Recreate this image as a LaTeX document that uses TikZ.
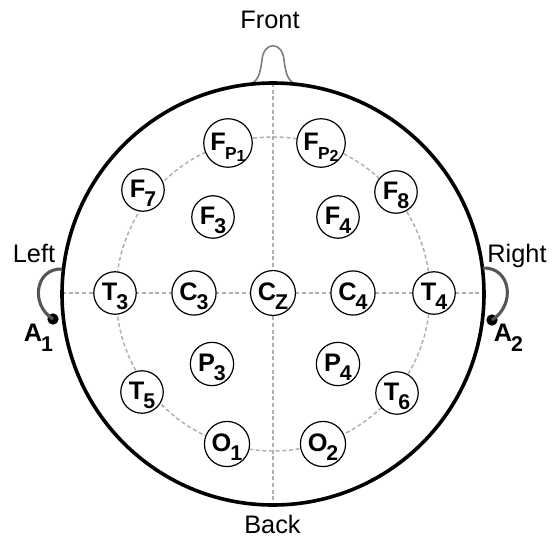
\documentclass[tikz,border=0pt]{standalone}
\usepackage{fontspec}
\setmainfont{Liberation Sans}
\usetikzlibrary{positioning}
\definecolor{guidegray}{RGB}{175,175,175}
\definecolor{nosegray}{RGB}{125,125,125}
\definecolor{eargray}{RGB}{85,85,85}
\newcommand{\esub}[1]{\kern-0.8pt\raisebox{-7pt}{\fontsize{16}{16}\selectfont #1}}
\newcommand{\fpsub}[1]{\kern-0.5pt\raisebox{-6.5pt}{\fontsize{13}{13}\selectfont P\raisebox{-1.5pt}{\fontsize{12}{12}\selectfont #1}}}

\begin{document}
\begin{tikzpicture}[
  x=0.75pt, y=-0.75pt,
  elec/.style      = {circle, draw=black, fill=white, line width=0.9pt,
                      minimum size=27.75pt, inner sep=0pt,
                      text height=18pt, text depth=7pt,
                      font=\fontsize{19}{19}\selectfont\bfseries},
  side/.style      = {anchor=base, font=\fontsize{19}{19}\selectfont},
  refel/.style     = {anchor=base, font=\fontsize{19}{19}\selectfont\bfseries},
  guideline/.style = {draw=guidegray, line width=1.1pt, dash pattern=on 3pt off 2pt},
  head/.style      = {draw=black, line width=2.7pt},
  nose/.style      = {draw=nosegray, line width=1.2pt},
  ear/.style       = {draw=eargray, line width=2.3pt},
  clipdot/.style   = {circle, fill=black, inner sep=0pt, minimum size=8.5pt}
]
\useasboundingbox (0,0) rectangle (554,539);

% frame of the head
\coordinate (ctr)    at (273,294);
\coordinate (top)    at (273,83);
\coordinate (bottom) at (273,505);
\coordinate (lft)    at (62,293);
\coordinate (rgt)    at (484,293);
\coordinate (lear)   at (62,269);
\coordinate (rear)   at (483,268);

\draw[nose] (248,85) .. controls (258,82) and (260,75) .. (262,60)
            .. controls (263.5,41) and (282.5,41) .. (284,60)
            .. controls (286,75) and (288,82) .. (298,85);
\draw[guideline] (top) -- (bottom);
\draw[guideline] (lft) -- (rgt);
\draw[guideline] (ctr) circle (157);
\draw[head] (ctr) circle (211);

% ears
\node[clipdot] (a1dot) at (53,319) {};
\node[clipdot] (a2dot) at (492,320) {};
\draw[ear] (lear) .. controls (35,268) and (30,305) .. (a1dot.center);
\draw[ear] (rear) .. controls (511,267) and (516,305) .. (a2dot.center);

% electrodes
\node[elec] (fp1) at (228,143) {F\fpsub{1}};
\node[elec] (fp2) at (321,143) {F\fpsub{2}};
\node[elec] (f7)  at (143,190) {F\esub{7}};
\node[elec] (f8)  at (396,192) {F\esub{8}};
\node[elec] (f3)  at (213,217) {F\esub{3}};
\node[elec] (f4)  at (338,217) {F\esub{4}};
\node[elec] (t3)  at (115,293) {T\esub{3}};
\node[elec] (c3)  at (194,293) {C\esub{3}};
\node[elec] (cz)  at (273,293) {C\esub{Z}};
\node[elec] (c4)  at (353,293) {C\esub{4}};
\node[elec] (t4)  at (434,293) {T\esub{4}};
\node[elec] (p3)  at (212,364) {P\esub{3}};
\node[elec] (p4)  at (338,364) {P\esub{4}};
\node[elec] (t5)  at (142,392) {T\esub{5}};
\node[elec] (t6)  at (397,393) {T\esub{6}};
\node[elec] (o1)  at (227,444) {O\esub{1}};
\node[elec] (o2)  at (323,444) {O\esub{2}};

% labels
\node[side]  (front) at (270,28)    {Front};
\node[side]  (back)  at (272.5,533) {Back};
\node[side]  (left)  at (34,262.7)  {Left};
\node[side]  (right) at (517,262.7) {Right};
\node[refel] (a1)    at (38.5,341.7) {A\esub{1}};
\node[refel] (a2)    at (508.5,341.7) {A\esub{2}};
\end{tikzpicture}
\end{document}
